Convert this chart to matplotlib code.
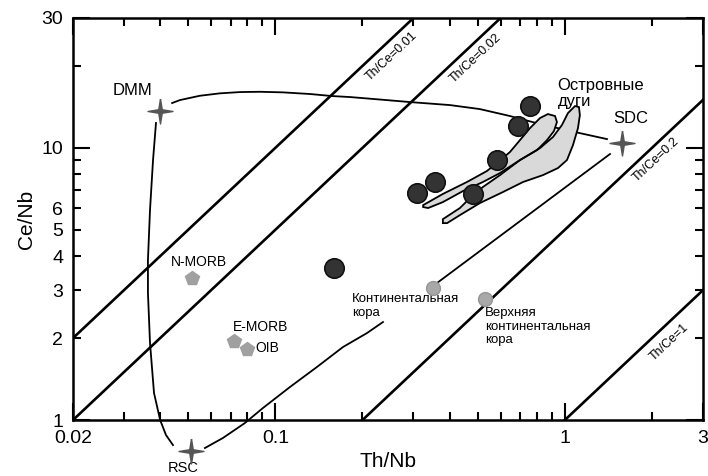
import matplotlib
matplotlib.use("Agg")
from matplotlib import pyplot as plt
from matplotlib.path import Path

plt.rcParams['font.family'] = ['Liberation Sans', 'DejaVu Sans']

# --- data (Th/Nb, Ce/Nb) ---
arc_x = [0.758, 0.688, 0.583, 0.356, 0.308, 0.482, 0.159]
arc_y = [14.2, 12.0, 9.02, 7.49, 6.82, 6.77, 3.62]

morb_names = ['N-MORB', 'E-MORB', 'OIB']
morb_x = [0.0515, 0.072, 0.080]
morb_y = [3.32, 1.95, 1.82]

crust_names = ['Континентальная\nкора', 'Верхняя\nконтинентальная\nкора']
crust_x = [0.35, 0.53]
crust_y = [3.05, 2.78]

end_names = ['DMM', 'SDC', 'RSC']
end_x = [0.040, 1.58, 0.0511]
end_y = [13.65, 10.4, 0.77]

th_ce = [0.01, 0.02, 0.2, 1.0]
th_ce_labels = ['Th/Ce=0.01', 'Th/Ce=0.02', 'Th/Ce=0.2', 'Th/Ce=1']

# island arc fields
arcA_x = [0.324, 0.379, 0.459, 0.538, 0.583, 0.646, 0.700, 0.758, 0.821, 0.874, 0.925,
          0.939, 0.917, 0.868, 0.801, 0.700, 0.597, 0.521, 0.445, 0.379, 0.337, 0.324]
arcA_y = [6.16, 6.77, 7.49, 8.22, 8.80, 9.65, 10.68, 11.82, 12.87, 13.31, 13.09,
          12.44, 11.53, 10.68, 9.81, 9.02, 8.08, 7.49, 6.94, 6.32, 6.01, 6.06]
arcB_x = [0.379, 0.434, 0.482, 0.521, 0.597, 0.700, 0.821, 0.910, 0.977, 1.025, 1.084, 1.119,
          1.127, 1.110, 1.067, 1.017, 0.947, 0.840, 0.717, 0.611, 0.509, 0.434, 0.392, 0.379]
arcB_y = [5.47, 6.01, 6.71, 7.18, 7.94, 9.02, 9.98, 10.96, 12.13, 13.42, 14.24, 14.12,
          13.20, 11.82, 10.24, 9.02, 8.43, 7.94, 7.49, 6.88, 6.27, 5.66, 5.29, 5.29]

# mixing curves
dmm_sdc_x = [0.0440, 0.0468, 0.0549, 0.0644, 0.0755, 0.0885, 0.1063, 0.1317, 0.1569, 0.181,
             0.2298, 0.292, 0.401, 0.509, 0.646, 0.821, 1.084, 1.398]
dmm_sdc_y = [14.61, 14.98, 15.54, 15.86, 16.03, 16.07, 15.99, 15.77, 15.50, 15.37,
             15.05, 14.73, 14.36, 13.88, 13.09, 12.23, 11.43, 10.77]
dmm_rsc_x = [0.0387, 0.0378, 0.0369, 0.0363, 0.0363, 0.0369, 0.0381, 0.0400, 0.0419, 0.0443]
dmm_rsc_y = [12.34, 9.02, 5.91, 3.87, 2.93, 1.92, 1.256, 1.0, 0.881, 0.809]
rsc_cc_x = [0.0571, 0.0659, 0.0785, 0.0906, 0.1123, 0.1392, 0.1712, 0.2073, 0.2354]
rsc_cc_y = [0.789, 0.859, 0.975, 1.107, 1.322, 1.566, 1.854, 2.087, 2.291]
cc_sdc_x = [0.3616, 1.432]
cc_sdc_y = [3.186, 9.49]

star = Path([(0, 1), (0.14, 0.14), (1, 0), (0.14, -0.14), (0, -1),
             (-0.14, -0.14), (-1, 0), (-0.14, 0.14), (0, 1)])

fig = plt.figure(figsize=(7.08, 4.76), dpi=100)
ax = fig.add_axes([0.1031, 0.1176, 0.8898, 0.8446])
ax.set_xscale('log')
ax.set_yscale('log')
ax.set_xlim(0.02, 3)
ax.set_ylim(1, 30)

# Th/Ce reference lines
xs = [0.02, 3]
for r in th_ce:
    ax.plot(xs, [x / r for x in xs], color='black', lw=1.9, zorder=2)

lab_pos = [(0.253, 21.6), (0.493, 21.4), (2.06, 9.02), (2.29, 1.93)]
for (lx, ly), lab in zip(lab_pos, th_ce_labels):
    ax.text(lx, ly, lab, fontsize=9, rotation=43.2, ha='center', va='center', zorder=3)

# curves
ax.plot(dmm_sdc_x, dmm_sdc_y, color='black', lw=1.3, zorder=2)
ax.plot(dmm_rsc_x, dmm_rsc_y, color='black', lw=1.3, zorder=2, clip_on=False)
ax.plot(rsc_cc_x, rsc_cc_y, color='black', lw=1.3, zorder=2, clip_on=False)
ax.plot(cc_sdc_x, cc_sdc_y, color='black', lw=1.3, zorder=2)

# island arc fields
ax.fill(arcA_x, arcA_y, facecolor='#d9d9d9', edgecolor='none', zorder=3)
ax.fill(arcB_x, arcB_y, facecolor='#d9d9d9', edgecolor='none', zorder=3)
ax.fill(arcA_x, arcA_y, facecolor='none', edgecolor='black', lw=1.3, zorder=4)
ax.fill(arcB_x, arcB_y, facecolor='none', edgecolor='black', lw=1.3, zorder=4)
ax.text(0.945, 15.8, 'Островные\nдуги', fontsize=12, ha='left', va='center',
        linespacing=1.05, zorder=6)

# samples
ax.plot(arc_x, arc_y, 'o', ms=14, mfc='#333333', mec='#111111', mew=1.2, zorder=5)

ax.plot(morb_x, morb_y, 'p', ms=10, mfc='#a0a0a0', mec='#a0a0a0', zorder=5)
ax.text(0.0545, 3.81, morb_names[0], fontsize=10, ha='center', va='center')
ax.text(0.0892, 2.20, morb_names[1], fontsize=10, ha='center', va='center')
ax.text(0.0855, 1.84, morb_names[2], fontsize=10, ha='left', va='center')

ax.plot(crust_x, crust_y, 'o', ms=10, mfc='#a8a8a8', mec='#959595', zorder=5)
ax.text(0.184, 2.62, crust_names[0], fontsize=9.5, ha='left', va='center', linespacing=1.15)
ax.text(0.530, 2.20, crust_names[1], fontsize=9.5, ha='left', va='center', linespacing=1.15)

ax.plot(end_x, end_y, marker=star, ls='none', ms=18, mfc='#555555', mec='#555555',
        zorder=6, clip_on=False)
ax.text(0.0322, 16.3, end_names[0], fontsize=12, ha='center', va='center')
ax.text(1.69, 12.87, end_names[1], fontsize=12, ha='center', va='center')
ax.text(0.048, 0.668, end_names[2], fontsize=10.5, ha='center', va='center', clip_on=False)

# ticks
ax.set_xticks([0.02, 0.1, 1, 3])
ax.set_xticklabels(['0.02', '0.1', '1', '3'])
ax.set_xticks([0.03, 0.04, 0.05, 0.06, 0.07, 0.08, 0.09,
               0.2, 0.3, 0.4, 0.5, 0.6, 0.7, 0.8, 0.9, 2], minor=True)
ax.set_xticklabels([], minor=True)
ax.set_yticks([1, 10, 30])
ax.set_yticklabels(['1', '10', '30'])
ax.set_yticks([2, 3, 4, 5, 6, 7, 8, 9, 20], minor=True)
ax.set_yticklabels(['2', '3', '4', '5', '6', '', '', '', ''], minor=True)

ax.tick_params(which='both', direction='in', top=True, right=True, labelsize=14,
               width=1.5, pad=7)
ax.tick_params(which='major', length=12)
ax.tick_params(which='minor', length=6)
for s in ax.spines.values():
    s.set_linewidth(1.8)

ax.set_xlabel('Th/Nb', fontsize=15, labelpad=4)
ax.set_ylabel('Ce/Nb', fontsize=15, labelpad=4)

fig.savefig('out.png', dpi=100)
